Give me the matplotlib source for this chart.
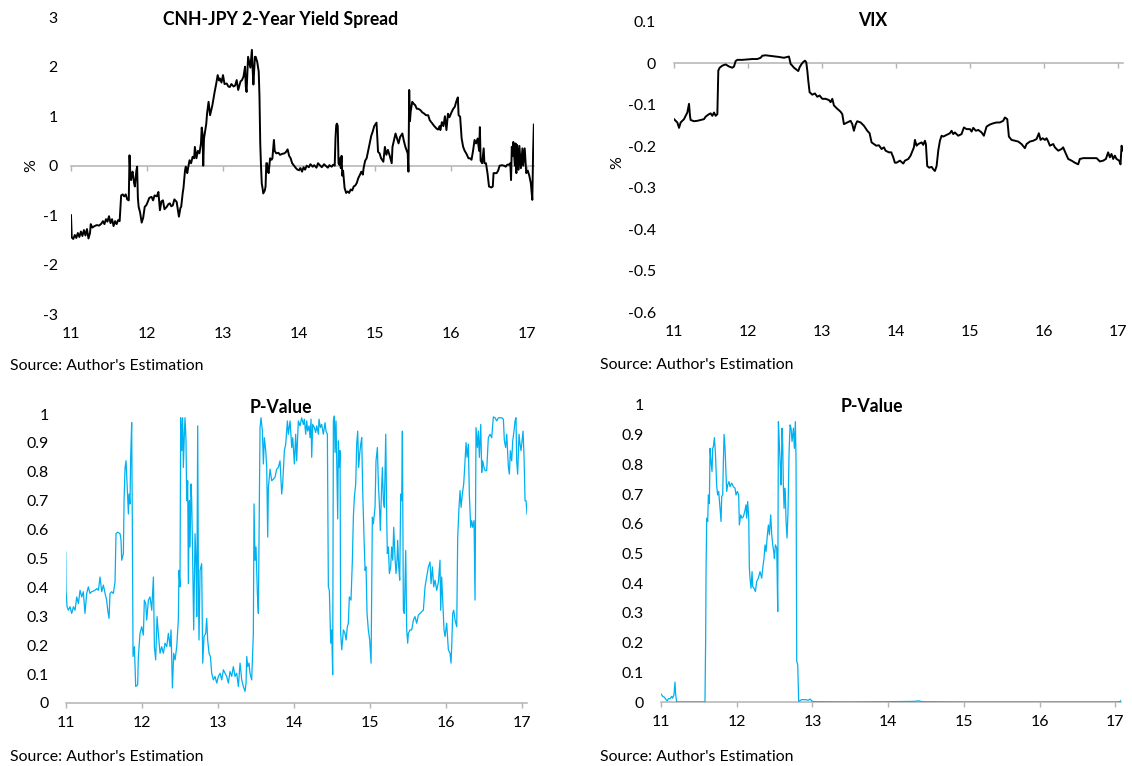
import matplotlib
matplotlib.use("Agg")
import matplotlib.pyplot as plt

W, H = 1132, 766
plt.rcParams['font.family'] = ['Lato', 'DejaVu Sans']

# ---------------- data ----------------
years = [11, 12, 13, 14, 15, 16, 17]

spread_x = [11.00, 11.01, 11.03, 11.05, 11.07, 11.09, 11.11, 11.13, 11.15, 11.17, 11.19, 11.21, 11.23, 11.25,
            11.26, 11.28, 11.31, 11.34, 11.37, 11.40, 11.42, 11.44, 11.46, 11.48, 11.50, 11.52, 11.54, 11.56,
            11.58, 11.60, 11.62, 11.64, 11.66, 11.68, 11.70, 11.72, 11.74, 11.76, 11.77, 11.78, 11.79, 11.80,
            11.81, 11.83, 11.84, 11.86, 11.87, 11.88, 11.89, 11.91, 11.93, 11.95, 11.97, 11.99, 12.01, 12.03,
            12.06, 12.08, 12.10, 12.13, 12.15, 12.17, 12.19, 12.21, 12.23, 12.26, 12.28, 12.30, 12.32, 12.34,
            12.36, 12.39, 12.42, 12.44, 12.45, 12.47, 12.48, 12.50, 12.51, 12.53, 12.54, 12.56, 12.58, 12.60,
            12.62, 12.63, 12.65, 12.67, 12.69, 12.71, 12.72, 12.73, 12.74, 12.75, 12.76, 12.78, 12.79, 12.81,
            12.83, 12.85, 12.86, 12.88, 12.89, 12.91, 12.93, 12.95, 12.96, 12.98, 13.00, 13.02, 13.05, 13.07,
            13.09, 13.11, 13.14, 13.16, 13.18, 13.20, 13.23, 13.25, 13.27, 13.29, 13.30, 13.31, 13.33, 13.35,
            13.36, 13.38, 13.39, 13.40, 13.42, 13.43, 13.45, 13.47, 13.48, 13.49, 13.50, 13.51, 13.52, 13.53,
            13.55, 13.56, 13.57, 13.58, 13.59, 13.60, 13.62, 13.64, 13.65, 13.67, 13.68, 13.70, 13.73, 13.75,
            13.78, 13.81, 13.83, 13.85, 13.87, 13.89, 13.91, 13.93, 13.96, 13.98, 14.00, 14.02, 14.04, 14.06,
            14.08, 14.10, 14.13, 14.15, 14.18, 14.20, 14.23, 14.25, 14.28, 14.30, 14.33, 14.35, 14.38, 14.40,
            14.43, 14.45, 14.47, 14.48, 14.49, 14.50, 14.51, 14.52, 14.53, 14.54, 14.55, 14.56, 14.57, 14.58,
            14.60, 14.62, 14.64, 14.66, 14.68, 14.70, 14.72, 14.74, 14.76, 14.78, 14.80, 14.82, 14.84, 14.85,
            14.87, 14.89, 14.91, 14.93, 14.95, 14.97, 14.99, 15.02, 15.04, 15.06, 15.08, 15.11, 15.13, 15.15,
            15.17, 15.19, 15.22, 15.23, 15.25, 15.27, 15.29, 15.31, 15.33, 15.36, 15.38, 15.40, 15.43, 15.44,
            15.45, 15.46, 15.47, 15.49, 15.51, 15.53, 15.55, 15.57, 15.60, 15.62, 15.65, 15.67, 15.70, 15.72,
            15.75, 15.78, 15.81, 15.83, 15.85, 15.86, 15.88, 15.90, 15.92, 15.94, 15.96, 15.98, 16.01, 16.03,
            16.05, 16.07, 16.09, 16.10, 16.12, 16.14, 16.16, 16.18, 16.20, 16.23, 16.25, 16.27, 16.29, 16.31,
            16.33, 16.35, 16.37, 16.38, 16.39, 16.41, 16.43, 16.44, 16.46, 16.48, 16.50, 16.53, 16.55, 16.56,
            16.60, 16.62, 16.64, 16.67, 16.70, 16.72, 16.74, 16.76, 16.78, 16.79, 16.80, 16.81, 16.82, 16.84,
            16.85, 16.86, 16.87, 16.89, 16.90, 16.92, 16.94, 16.95, 16.97, 16.99, 17.01, 17.03, 17.05, 17.07,
            17.08, 17.09]
spread_y = [-1.00, -1.45, -1.48, -1.40, -1.46, -1.36, -1.44, -1.33, -1.42, -1.30, -1.41, -1.28, -1.47, -1.36,
            -1.18, -1.25, -1.22, -1.20, -1.21, -1.17, -1.12, -1.18, -1.08, -1.13, -1.02, -1.16, -1.08, -1.22,
            -1.12, -1.18, -1.10, -1.12, -0.60, -0.58, -0.62, -0.58, -0.68, -0.70, 0.21, -0.15, -0.29, -0.18,
            -0.12, -0.35, -0.42, -0.10, -0.02, -0.65, -0.83, -0.95, -1.15, -1.05, -0.83, -0.80, -0.73, -0.65,
            -0.63, -0.70, -0.60, -0.62, -0.53, -0.90, -0.72, -0.70, -0.88, -0.83, -0.78, -0.76, -0.82, -0.80,
            -0.68, -0.73, -1.03, -0.85, -0.83, -0.55, -0.45, -0.10, -0.02, -0.15, -0.05, 0.11, 0.05, 0.18,
            0.15, 0.38, 0.15, 0.30, 0.25, 0.45, 0.77, 0.65, 0.00, 0.55, 0.65, 0.85, 1.05, 1.29,
            1.02, 1.15, 1.22, 1.40, 1.49, 1.65, 1.83, 1.72, 1.76, 1.68, 1.83, 1.65, 1.66, 1.60,
            1.59, 1.65, 1.60, 1.62, 1.73, 1.53, 1.70, 1.73, 1.80, 2.00, 1.60, 1.49, 2.20, 2.05,
            1.98, 2.34, 1.95, 1.64, 2.20, 2.20, 2.10, 1.90, 1.40, 0.45, 0.00, -0.36, -0.45, -0.56,
            -0.50, -0.42, 0.05, 0.05, -0.10, -0.15, 0.15, 0.12, 0.15, 0.52, 0.30, 0.25, 0.26, 0.22,
            0.24, 0.25, 0.28, 0.33, 0.20, 0.15, 0.05, 0.01, -0.05, -0.08, -0.09, -0.05, -0.12, -0.03,
            -0.08, 0.00, -0.03, 0.03, -0.02, 0.01, -0.04, 0.05, 0.00, -0.03, 0.03, 0.00, -0.04, 0.01,
            -0.02, 0.02, 0.00, 0.55, 0.82, 0.85, 0.80, 0.05, 0.02, 0.15, -0.05, 0.20, -0.20, -0.10,
            -0.45, -0.55, -0.52, -0.55, -0.48, -0.50, -0.42, -0.40, -0.35, -0.25, -0.19, -0.12, -0.18, -0.05,
            0.10, 0.15, 0.30, 0.45, 0.60, 0.69, 0.80, 0.87, 0.28, 0.25, 0.15, 0.08, 0.38, 0.22,
            0.32, 0.22, 0.05, 0.38, 0.52, 0.65, 0.55, 0.45, 0.58, 0.65, 0.50, 0.38, 0.25, -0.12,
            1.53, 0.90, 1.10, 1.29, 1.25, 1.22, 1.15, 1.15, 1.12, 1.08, 1.05, 1.02, 1.02, 0.92,
            0.86, 0.80, 0.75, 0.73, 0.80, 0.72, 0.88, 0.80, 1.00, 0.72, 1.05, 0.98, 1.09, 1.15,
            1.19, 1.30, 1.38, 1.02, 0.99, 0.55, 0.38, 0.30, 0.25, 0.15, 0.15, 0.12, 0.30, 0.52,
            0.45, 0.55, 0.30, 0.78, 0.10, 0.05, 0.35, 0.05, 0.05, -0.15, -0.42, -0.44, -0.42, -0.15,
            -0.15, -0.10, 0.00, 0.01, 0.00, -0.02, 0.02, 0.02, 0.05, -0.29, 0.38, 0.20, 0.48, 0.00,
            0.45, -0.15, 0.42, -0.08, 0.40, -0.05, 0.35, 0.00, 0.35, -0.15, -0.10, -0.20, -0.35, -0.69,
            0.25, 0.83]

vix_x = [11.000, 11.023, 11.045, 11.068, 11.090, 11.113, 11.135, 11.158, 11.180, 11.203, 11.216, 11.225,
         11.270, 11.315, 11.360, 11.405, 11.428, 11.464, 11.495, 11.518, 11.541, 11.563, 11.586, 11.599,
         11.617, 11.653, 11.698, 11.743, 11.788, 11.811, 11.833, 11.856, 11.923, 11.991, 12.059, 12.126,
         12.171, 12.194, 12.239, 12.329, 12.419, 12.486, 12.532, 12.554, 12.577, 12.599, 12.622, 12.658,
         12.680, 12.698, 12.721, 12.743, 12.770, 12.788, 12.802, 12.815, 12.833, 12.869, 12.905, 12.937,
         12.968, 13.005, 13.050, 13.095, 13.117, 13.140, 13.162, 13.207, 13.252, 13.275, 13.297, 13.342,
         13.387, 13.410, 13.432, 13.455, 13.477, 13.523, 13.568, 13.613, 13.644, 13.671, 13.703, 13.734,
         13.770, 13.806, 13.838, 13.860, 13.905, 13.937, 13.964, 13.986, 14.009, 14.054, 14.099, 14.122,
         14.167, 14.198, 14.225, 14.243, 14.257, 14.279, 14.302, 14.347, 14.369, 14.392, 14.405, 14.423,
         14.450, 14.482, 14.505, 14.527, 14.550, 14.572, 14.595, 14.617, 14.640, 14.685, 14.730, 14.752,
         14.775, 14.797, 14.842, 14.887, 14.919, 14.955, 15.000, 15.023, 15.045, 15.081, 15.113, 15.158,
         15.189, 15.225, 15.270, 15.315, 15.360, 15.405, 15.450, 15.473, 15.505, 15.527, 15.563, 15.608,
         15.653, 15.698, 15.743, 15.766, 15.811, 15.856, 15.901, 15.932, 15.955, 15.982, 16.014, 16.036,
         16.059, 16.081, 16.126, 16.149, 16.194, 16.239, 16.261, 16.284, 16.329, 16.374, 16.419, 16.464,
         16.486, 16.532, 16.622, 16.712, 16.757, 16.802, 16.838, 16.869, 16.892, 16.914, 16.937, 16.959,
         16.982, 17.018, 17.036, 17.050, 17.072]
vix_y = [-0.135, -0.139, -0.143, -0.156, -0.143, -0.139, -0.135, -0.127, -0.119, -0.098, -0.127, -0.137,
         -0.140, -0.139, -0.137, -0.135, -0.129, -0.124, -0.121, -0.127, -0.119, -0.127, -0.123, -0.018,
         -0.011, -0.006, -0.003, -0.008, -0.011, -0.008, 0.005, 0.008, 0.008, 0.009, 0.010, 0.010,
         0.013, 0.018, 0.019, 0.017, 0.015, 0.013, 0.015, 0.016, -0.002, -0.006, -0.011, -0.016,
         -0.019, -0.010, -0.003, 0.002, 0.006, 0.002, -0.018, -0.042, -0.070, -0.076, -0.073, -0.081,
         -0.078, -0.086, -0.086, -0.089, -0.094, -0.086, -0.102, -0.110, -0.117, -0.123, -0.147, -0.143,
         -0.139, -0.147, -0.163, -0.148, -0.140, -0.143, -0.151, -0.163, -0.169, -0.191, -0.195, -0.199,
         -0.198, -0.207, -0.203, -0.211, -0.215, -0.215, -0.227, -0.240, -0.240, -0.235, -0.242, -0.235,
         -0.231, -0.223, -0.211, -0.203, -0.185, -0.199, -0.195, -0.191, -0.197, -0.187, -0.195, -0.248,
         -0.252, -0.250, -0.256, -0.260, -0.248, -0.211, -0.187, -0.175, -0.177, -0.173, -0.169, -0.163,
         -0.171, -0.167, -0.175, -0.171, -0.155, -0.159, -0.159, -0.165, -0.156, -0.163, -0.161, -0.167,
         -0.175, -0.153, -0.148, -0.145, -0.143, -0.143, -0.139, -0.131, -0.135, -0.177, -0.185, -0.187,
         -0.189, -0.195, -0.205, -0.195, -0.189, -0.187, -0.183, -0.169, -0.185, -0.181, -0.185, -0.181,
         -0.189, -0.199, -0.195, -0.203, -0.211, -0.207, -0.203, -0.213, -0.231, -0.235, -0.240, -0.244,
         -0.231, -0.229, -0.229, -0.229, -0.237, -0.235, -0.231, -0.215, -0.227, -0.219, -0.231, -0.223,
         -0.231, -0.235, -0.244, -0.199, -0.211]

pv1_x = [11.000, 11.004, 11.018, 11.035, 11.057, 11.079, 11.101, 11.123, 11.145, 11.167, 11.189, 11.211,
         11.232, 11.254, 11.276, 11.298, 11.320, 11.342, 11.386, 11.408, 11.430, 11.452, 11.474, 11.496,
         11.518, 11.539, 11.553, 11.570, 11.583, 11.605, 11.627, 11.649, 11.662, 11.684, 11.715, 11.728,
         11.737, 11.759, 11.768, 11.781, 11.794, 11.807, 11.825, 11.833, 11.846, 11.855, 11.868, 11.877,
         11.886, 11.904, 11.921, 11.947, 11.956, 11.978, 12.000, 12.022, 12.035, 12.053, 12.066, 12.088,
         12.110, 12.132, 12.154, 12.167, 12.184, 12.202, 12.219, 12.241, 12.263, 12.285, 12.307, 12.329,
         12.351, 12.373, 12.386, 12.404, 12.421, 12.439, 12.461, 12.482, 12.491, 12.504, 12.513, 12.526,
         12.539, 12.548, 12.561, 12.570, 12.583, 12.592, 12.605, 12.614, 12.627, 12.636, 12.649, 12.658,
         12.671, 12.684, 12.702, 12.715, 12.724, 12.737, 12.746, 12.754, 12.768, 12.789, 12.803, 12.820,
         12.842, 12.855, 12.868, 12.886, 12.904, 12.921, 12.943, 12.965, 12.987, 13.009, 13.031, 13.053,
         13.075, 13.096, 13.118, 13.140, 13.162, 13.184, 13.206, 13.228, 13.250, 13.272, 13.294, 13.316,
         13.338, 13.360, 13.373, 13.382, 13.395, 13.412, 13.425, 13.447, 13.469, 13.478, 13.491, 13.504,
         13.522, 13.535, 13.548, 13.557, 13.570, 13.588, 13.601, 13.614, 13.632, 13.645, 13.658, 13.667,
         13.689, 13.711, 13.732, 13.754, 13.776, 13.798, 13.820, 13.842, 13.855, 13.877, 13.895, 13.917,
         13.930, 13.952, 13.974, 13.987, 14.009, 14.026, 14.039, 14.061, 14.083, 14.105, 14.127, 14.140,
         14.158, 14.171, 14.184, 14.202, 14.215, 14.228, 14.237, 14.250, 14.272, 14.289, 14.303, 14.325,
         14.333, 14.351, 14.368, 14.390, 14.412, 14.425, 14.443, 14.456, 14.469, 14.487, 14.500, 14.513,
         14.522, 14.535, 14.544, 14.557, 14.570, 14.579, 14.588, 14.601, 14.610, 14.618, 14.632, 14.654,
         14.675, 14.689, 14.706, 14.719, 14.732, 14.754, 14.772, 14.785, 14.798, 14.816, 14.829, 14.842,
         14.855, 14.868, 14.882, 14.895, 14.908, 14.925, 14.939, 14.952, 14.965, 14.982, 15.000, 15.018,
         15.035, 15.048, 15.070, 15.083, 15.101, 15.114, 15.127, 15.140, 15.154, 15.167, 15.180, 15.193,
         15.211, 15.224, 15.232, 15.246, 15.259, 15.276, 15.289, 15.303, 15.316, 15.333, 15.346, 15.360,
         15.368, 15.382, 15.395, 15.408, 15.421, 15.430, 15.443, 15.456, 15.474, 15.487, 15.500, 15.509,
         15.531, 15.553, 15.575, 15.596, 15.618, 15.640, 15.662, 15.684, 15.706, 15.728, 15.750, 15.772,
         15.794, 15.807, 15.825, 15.842, 15.860, 15.882, 15.904, 15.925, 15.934, 15.947, 15.961, 15.978,
         15.991, 16.013, 16.035, 16.057, 16.070, 16.079, 16.092, 16.105, 16.123, 16.145, 16.158, 16.175,
         16.189, 16.202, 16.219, 16.237, 16.254, 16.268, 16.281, 16.298, 16.311, 16.329, 16.342, 16.355,
         16.373, 16.386, 16.399, 16.417, 16.430, 16.443, 16.461, 16.474, 16.487, 16.504, 16.518, 16.539,
         16.561, 16.583, 16.605, 16.627, 16.649, 16.671, 16.693, 16.737, 16.759, 16.772, 16.789, 16.803,
         16.825, 16.838, 16.851, 16.868, 16.882, 16.899, 16.912, 16.925, 16.934, 16.947, 16.965, 16.978,
         16.991, 17.004, 17.018, 17.031, 17.044, 17.057, 17.070]
pv1_y = [0.522, 0.390, 0.333, 0.321, 0.333, 0.310, 0.333, 0.321, 0.367, 0.344, 0.390, 0.367,
         0.385, 0.310, 0.379, 0.402, 0.379, 0.385, 0.390, 0.396, 0.390, 0.436, 0.385, 0.408,
         0.379, 0.356, 0.321, 0.293, 0.379, 0.385, 0.379, 0.419, 0.586, 0.591, 0.586, 0.563,
         0.494, 0.517, 0.700, 0.815, 0.838, 0.758, 0.654, 0.723, 0.689, 0.850, 0.970, 0.608,
         0.161, 0.195, 0.057, 0.063, 0.161, 0.241, 0.264, 0.235, 0.356, 0.344, 0.287, 0.356,
         0.367, 0.321, 0.436, 0.195, 0.149, 0.299, 0.241, 0.172, 0.195, 0.172, 0.207, 0.195,
         0.241, 0.195, 0.253, 0.052, 0.172, 0.149, 0.195, 0.287, 0.459, 0.402, 0.987, 0.873,
         0.987, 0.815, 0.930, 0.987, 0.907, 0.700, 0.769, 0.413, 0.700, 0.540, 0.758, 0.700,
         0.494, 0.253, 0.586, 0.482, 0.299, 0.959, 0.402, 0.218, 0.459, 0.482, 0.138, 0.230,
         0.241, 0.293, 0.218, 0.172, 0.161, 0.103, 0.080, 0.092, 0.069, 0.092, 0.103, 0.080,
         0.115, 0.103, 0.092, 0.069, 0.109, 0.092, 0.126, 0.092, 0.103, 0.057, 0.138, 0.080,
         0.057, 0.040, 0.069, 0.161, 0.126, 0.138, 0.103, 0.080, 0.241, 0.689, 0.494, 0.540,
         0.379, 0.310, 0.700, 0.953, 0.987, 0.941, 0.827, 0.918, 0.873, 0.815, 0.574, 0.746,
         0.809, 0.769, 0.775, 0.781, 0.809, 0.815, 0.838, 0.723, 0.758, 0.873, 0.896, 0.976,
         0.930, 0.976, 0.884, 0.918, 0.827, 0.930, 0.838, 0.976, 0.959, 0.987, 0.964, 0.982,
         0.930, 0.976, 0.941, 0.959, 0.918, 0.982, 0.850, 0.964, 0.953, 0.936, 0.959, 0.930,
         0.982, 0.953, 0.964, 0.930, 0.970, 0.941, 0.930, 0.402, 0.390, 0.207, 0.253, 0.098,
         0.976, 0.993, 0.867, 0.976, 0.781, 0.637, 0.907, 0.815, 0.873, 0.241, 0.184, 0.253,
         0.241, 0.218, 0.264, 0.276, 0.367, 0.356, 0.494, 0.643, 0.712, 0.758, 0.896, 0.941,
         0.815, 0.861, 0.896, 0.918, 0.735, 0.574, 0.459, 0.471, 0.310, 0.253, 0.218, 0.138,
         0.643, 0.620, 0.677, 0.838, 0.884, 0.758, 0.689, 0.597, 0.723, 0.815, 0.700, 0.677,
         0.930, 0.643, 0.517, 0.540, 0.448, 0.471, 0.540, 0.494, 0.608, 0.505, 0.448, 0.494,
         0.563, 0.471, 0.425, 0.723, 0.700, 0.941, 0.321, 0.310, 0.528, 0.253, 0.207, 0.241,
         0.253, 0.253, 0.287, 0.299, 0.276, 0.304, 0.310, 0.316, 0.321, 0.402, 0.436, 0.471,
         0.488, 0.413, 0.471, 0.402, 0.425, 0.390, 0.419, 0.494, 0.321, 0.436, 0.356, 0.253,
         0.230, 0.276, 0.184, 0.172, 0.138, 0.195, 0.310, 0.321, 0.287, 0.264, 0.574, 0.677,
         0.735, 0.677, 0.723, 0.758, 0.838, 0.901, 0.850, 0.896, 0.723, 0.608, 0.631, 0.608,
         0.631, 0.356, 0.953, 0.884, 0.941, 0.850, 0.964, 0.798, 0.838, 0.815, 0.804, 0.804,
         0.918, 0.930, 0.918, 0.990, 0.987, 0.976, 0.987, 0.987, 0.982, 0.907, 0.884, 0.930,
         0.815, 0.792, 0.873, 0.838, 0.907, 0.941, 0.976, 0.987, 0.838, 0.792, 0.930, 0.896,
         0.873, 0.907, 0.941, 0.850, 0.700, 0.700, 0.654]

pv2_x = [11.000, 11.022, 11.044, 11.066, 11.084, 11.097, 11.119, 11.141, 11.154, 11.172, 11.185, 11.194,
         11.207, 11.581, 11.590, 11.595, 11.604, 11.617, 11.626, 11.639, 11.648, 11.661, 11.674, 11.683,
         11.692, 11.705, 11.718, 11.736, 11.749, 11.762, 11.780, 11.793, 11.802, 11.815, 11.824, 11.833,
         11.846, 11.859, 11.868, 11.881, 11.899, 11.912, 11.934, 11.956, 11.978, 11.991, 12.009, 12.026,
         12.035, 12.053, 12.070, 12.088, 12.106, 12.123, 12.132, 12.145, 12.159, 12.167, 12.176, 12.189,
         12.203, 12.211, 12.229, 12.247, 12.264, 12.286, 12.308, 12.330, 12.344, 12.361, 12.374, 12.388,
         12.405, 12.419, 12.432, 12.449, 12.463, 12.476, 12.489, 12.498, 12.511, 12.529, 12.542, 12.551,
         12.564, 12.577, 12.586, 12.599, 12.608, 12.617, 12.626, 12.634, 12.643, 12.652, 12.665, 12.678,
         12.692, 12.705, 12.718, 12.731, 12.749, 12.762, 12.775, 12.784, 12.793, 12.806, 12.819, 12.859,
         12.903, 12.947, 12.969, 12.991, 13.013, 13.500, 14.000, 14.350, 14.400, 14.450, 15.000, 16.000,
         17.000, 17.060, 17.080]
pv2_y = [0.027, 0.019, 0.016, 0.008, 0.004, 0.011, 0.011, 0.019, 0.013, 0.025, 0.067, 0.025,
         0.000, 0.000, 0.215, 0.439, 0.619, 0.608, 0.697, 0.669, 0.854, 0.809, 0.776, 0.854,
         0.860, 0.890, 0.843, 0.725, 0.697, 0.709, 0.652, 0.608, 0.692, 0.697, 0.809, 0.901,
         0.854, 0.765, 0.709, 0.731, 0.742, 0.725, 0.737, 0.725, 0.720, 0.697, 0.709, 0.697,
         0.596, 0.630, 0.619, 0.624, 0.641, 0.664, 0.619, 0.675, 0.619, 0.451, 0.417, 0.383,
         0.439, 0.389, 0.383, 0.372, 0.406, 0.417, 0.439, 0.417, 0.451, 0.484, 0.529, 0.507,
         0.563, 0.596, 0.563, 0.630, 0.563, 0.529, 0.507, 0.484, 0.529, 0.518, 0.305, 0.944,
         0.865, 0.787, 0.731, 0.922, 0.865, 0.720, 0.652, 0.720, 0.697, 0.608, 0.552, 0.641,
         0.843, 0.933, 0.922, 0.877, 0.922, 0.854, 0.944, 0.809, 0.137, 0.126, 0.002, 0.008,
         0.008, 0.006, 0.010, 0.004, 0.001, 0.000, 0.001, 0.002, 0.004, 0.001, 0.000, 0.000,
         0.000, 0.001, 0.006]

spread_ticks = [-3, -2, -1, 0, 1, 2, 3]
vix_ticks = [-0.6, -0.5, -0.4, -0.3, -0.2, -0.1, 0, 0.1]
vix_labels = ['-0.6', '-0.5', '-0.4', '-0.3', '-0.2', '-0.1', '0', '0.1']
pv_ticks = [0, 0.1, 0.2, 0.3, 0.4, 0.5, 0.6, 0.7, 0.8, 0.9, 1]
pv_labels = ['0', '0.1', '0.2', '0.3', '0.4', '0.5', '0.6', '0.7', '0.8', '0.9', '1']

# ---------------- style ----------------
GRAY = '#B3B3B3'
BLUE = '#00B0F0'
FS = 11.4
TFS = 12.7
SRC = "Source: Author's Estimation"

fig = plt.figure(figsize=(W / 100, H / 100), dpi=100)


def px_axes(left, right, top, bottom):
    return fig.add_axes([left / W, 1 - bottom / H, (right - left) / W, (bottom - top) / H])


def top_panel(ax, xs, ys, ylim, yticks, ylabels, ypad):
    ax.plot(xs, ys, color='black', lw=1.4, zorder=3)
    ax.set_xlim(11, xs[-1])
    ax.set_ylim(*ylim)
    for s in ax.spines.values():
        s.set_visible(False)
    ax.set_xticks(years)
    ax.set_xticklabels([str(y) for y in years])
    ax.set_yticks(yticks)
    ax.set_yticklabels(ylabels)
    ax.tick_params(axis='x', length=0, pad=9.0, labelsize=FS)
    ax.tick_params(axis='y', length=0, pad=ypad, labelsize=FS)
    zero_pos = (0 - ylim[0]) / (ylim[1] - ylim[0])
    sec = ax.secondary_xaxis(zero_pos)
    sec.set_xticks(years)
    sec.set_xticklabels([])
    sec.xaxis.set_ticks_position('bottom')
    sec.spines['top'].set_visible(False)
    sec.spines['bottom'].set_visible(True)
    sec.spines['bottom'].set_color(GRAY)
    sec.spines['bottom'].set_linewidth(1.1)
    sec.tick_params(axis='x', direction='out', length=3.6, width=1.0, color=GRAY)


def bottom_panel(ax, xs, ys, ypad):
    ax.plot(xs, ys, color=BLUE, lw=0.9, zorder=3)
    ax.set_xlim(11, xs[-1])
    ax.set_ylim(0, 1)
    for k in ('top', 'right', 'left'):
        ax.spines[k].set_visible(False)
    ax.spines['bottom'].set_color(GRAY)
    ax.spines['bottom'].set_linewidth(1.1)
    ax.set_xticks(years)
    ax.set_xticklabels([str(y) for y in years])
    ax.set_yticks(pv_ticks)
    ax.set_yticklabels(pv_labels)
    ax.tick_params(axis='x', direction='out', length=3.6, width=1.0, color=GRAY, pad=6.0, labelsize=FS)
    ax.tick_params(axis='y', length=0, pad=ypad, labelsize=FS)


# top-left
ax1 = px_axes(71, 71 + 6.09 * 76, 17.2, 314.2)
top_panel(ax1, spread_x, spread_y, (-3, 3), spread_ticks, [str(t) for t in spread_ticks], 9.5)
fig.text(281 / W, 1 - 20 / H, 'CNH-JPY 2-Year Yield Spread', ha='center', va='center',
         fontsize=TFS, fontweight='bold')
fig.text(31 / W, 1 - 166 / H, '%', rotation=90, ha='center', va='center', fontsize=FS)
fig.text(10 / W, 1 - 366 / H, SRC, ha='left', va='center', fontsize=FS)

# top-right
ax2 = px_axes(674, 674 + 6.07 * 74, 21.7, 312)
top_panel(ax2, vix_x, vix_y, (-0.6, 0.1), vix_ticks, vix_labels, 13)
fig.text(873 / W, 1 - 20 / H, 'VIX', ha='center', va='center', fontsize=TFS, fontweight='bold')
fig.text(617 / W, 1 - 163 / H, '%', rotation=90, ha='center', va='center', fontsize=FS)
fig.text(600 / W, 1 - 365 / H, SRC, ha='left', va='center', fontsize=FS)

# bottom-left
ax3 = px_axes(65.7, 65.7 + 6.07 * 76, 414, 703)
bottom_panel(ax3, pv1_x, pv1_y, 12.3)
fig.text(281 / W, 1 - 407 / H, 'P-Value', ha='center', va='center', fontsize=TFS, fontweight='bold')
fig.text(10 / W, 1 - 757 / H, SRC, ha='left', va='center', fontsize=FS)

# bottom-right
ax4 = px_axes(661, 661 + 6.08 * 75.7, 405, 702)
bottom_panel(ax4, pv2_x, pv2_y, 12.3)
fig.text(872 / W, 1 - 406 / H, 'P-Value', ha='center', va='center', fontsize=TFS, fontweight='bold')
fig.text(600 / W, 1 - 757 / H, SRC, ha='left', va='center', fontsize=FS)

fig.savefig('out.png', dpi=100)
